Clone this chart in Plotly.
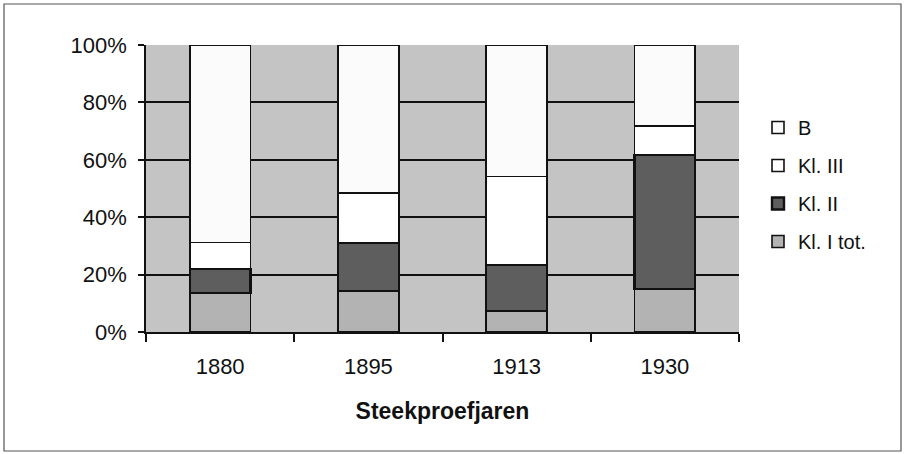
import plotly.graph_objects as go

years = ["1880", "1895", "1913", "1930"]
kl1 = [13.5, 14.3, 7.3, 15.0]
kl2 = [8.5, 16.7, 16.0, 46.7]
kl3 = [9.2, 17.4, 30.9, 10.0]
b = [68.8, 51.6, 45.8, 28.3]
series_names = ["Kl. I tot.", "Kl. II", "Kl. III", "B"]
series_colors = ["#b3b3b3", "#5e5e5e", "#ffffff", "#fbfbfb"]
series_line = [1.6, 2.4, 1.6, 1.6]
legend_ranks = [4, 3, 2, 1]
y_ticks = [0, 20, 40, 60, 80, 100]
y_ticklabels = ["0%", "20%", "40%", "60%", "80%", "100%"]

W, H = 904, 454
L, R, T, B = 146, 165, 45, 122
pw, ph = W - L - R, H - T - B

def px_x(p):
    return (p - L) / pw

def px_y(p):
    return (H - B - p) / ph

fig = go.Figure()
for name, vals, col, lw, rk in zip(series_names, [kl1, kl2, kl3, b], series_colors, series_line, legend_ranks):
    fig.add_trace(go.Bar(
        x=years, y=vals, name=name, legendgroup=name, legendrank=rk,
        marker=dict(color=col, line=dict(color="#111111", width=lw)),
    ))

fig.update_layout(
    width=W, height=H,
    barmode="stack", bargap=0.59,
    margin=dict(l=L, r=R, t=T, b=B, autoexpand=False),
    paper_bgcolor="white", plot_bgcolor="#c4c4c4",
    font=dict(family="Liberation Sans, Arial, sans-serif", color="#111111", size=22),
    legend=dict(
        x=px_x(758), xanchor="left", y=px_y(108), yanchor="top",
        traceorder="grouped", tracegroupgap=9,
        font=dict(size=20), bgcolor="rgba(0,0,0,0)",
    ),
    xaxis=dict(
        type="category", tickson="boundaries", ticks="outside", ticklen=8,
        tickcolor="#111111", tickwidth=1.5, showline=True, linecolor="#111111",
        linewidth=1.5, showgrid=False, ticklabelstandoff=14,
        title=dict(text="<b>Steekproefjaren</b>", font=dict(size=23), standoff=25),
    ),
    yaxis=dict(
        range=[0, 100.01], tickvals=y_ticks, ticktext=y_ticklabels,
        ticks="outside", ticklen=6, tickcolor="#111111", tickwidth=1.5,
        showline=True, linecolor="#111111", linewidth=1.5,
        showgrid=True, gridcolor="#111111", gridwidth=1.5,
        zeroline=False, ticklabelstandoff=7,
    ),
    showlegend=True,
)

fig.add_shape(type="rect", xref="paper", yref="paper",
              x0=px_x(4), x1=px_x(901), y0=px_y(451), y1=px_y(4),
              line=dict(color="#555555", width=1.2), fillcolor="rgba(0,0,0,0)", layer="above")

fig.write_html("out.html", config={"displayModeBar": False},
               post_script="document.body.style.margin='0';document.body.style.overflow='hidden';")
